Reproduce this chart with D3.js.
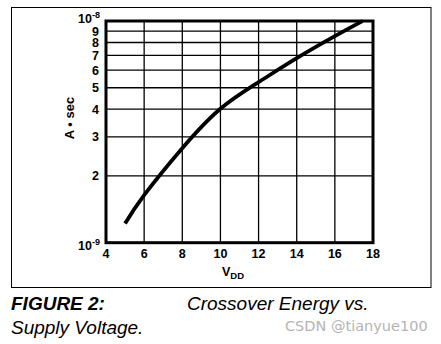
<!DOCTYPE html>
<html>
<head>
<meta charset="utf-8">
<script src="https://cdn.jsdelivr.net/npm/d3@7"></script>
<style>
  html, body { margin: 0; padding: 0; background: #fff; }
  svg { display: block; font-family: "Liberation Sans", Arial, sans-serif; }
</style>
</head>
<body>
<svg id="chart" width="441" height="344"></svg>
<script>
// Supply voltage (V) and crossover energy (units of 1e-9 A·s)
const vdd = [5, 6, 8, 10, 12, 14, 16, 17.45];
const energy = [1.22, 1.64, 2.67, 4.02, 5.3, 6.8, 8.55, 10];

const xTicks = [4, 6, 8, 10, 12, 14, 16, 18];
const yMinor = [2, 3, 4, 5, 6, 7, 8, 9];

const svg = d3.select("#chart");

const x = d3.scaleLinear().domain([4, 18]).range([106, 373]);
const y = d3.scaleLog().domain([1, 10]).range([242.7, 21]);

// outer figure border
svg.append("rect")
  .attr("x", 11.5).attr("y", 7.5).attr("width", 419.5).attr("height", 280)
  .attr("fill", "none").attr("stroke", "#000").attr("stroke-width", 1);

// grid
const grid = svg.append("g").attr("stroke", "#000").attr("stroke-width", 1.3);
grid.selectAll("line.v").data(xTicks.slice(1, -1)).join("line")
  .attr("x1", d => x(d)).attr("x2", d => x(d))
  .attr("y1", y(10)).attr("y2", y(1));
grid.selectAll("line.h").data(yMinor).join("line")
  .attr("x1", x(4)).attr("x2", x(18))
  .attr("y1", d => y(d)).attr("y2", d => y(d));

// plot frame
svg.append("rect")
  .attr("x", x(4)).attr("y", y(10))
  .attr("width", x(18) - x(4)).attr("height", y(1) - y(10))
  .attr("fill", "none").attr("stroke", "#000").attr("stroke-width", 3);

// curve
const line = d3.line()
  .x((d, i) => x(vdd[i]))
  .y(d => y(d))
  .curve(d3.curveNatural);
svg.append("path")
  .attr("d", line(energy))
  .attr("fill", "none").attr("stroke", "#000").attr("stroke-width", 3.8);

// x tick labels
svg.append("g").selectAll("text").data(xTicks).join("text")
  .attr("x", d => x(d)).attr("y", 257.5)
  .attr("text-anchor", "middle")
  .attr("font-size", 12.5).attr("font-weight", "bold")
  .text(d => d);

// y tick labels
svg.append("g").selectAll("text").data(yMinor).join("text")
  .attr("x", 99).attr("y", d => y(d) + 4.5)
  .attr("text-anchor", "end")
  .attr("font-size", 12.5).attr("font-weight", "bold")
  .text(d => d);

// decade labels
function decade(yPos, exp) {
  const t = svg.append("text")
    .attr("x", 100).attr("y", yPos)
    .attr("text-anchor", "end")
    .attr("font-size", 12.5).attr("font-weight", "bold");
  t.append("tspan").text("10");
  t.append("tspan").attr("dy", -5).attr("font-size", 9).text(exp);
}
decade(23, "-8");
decade(250, "-9");

// axis titles
svg.append("text")
  .attr("transform", "translate(74,118) rotate(-90)")
  .attr("text-anchor", "middle")
  .attr("font-size", 13).attr("font-weight", "bold")
  .text("A • sec");

const xt = svg.append("text")
  .attr("x", 222).attr("y", 276)
  .attr("font-size", 12.5).attr("font-weight", "bold");
xt.append("tspan").text("V");
xt.append("tspan").attr("dy", 3).attr("font-size", 9.5).text("DD");

// caption
svg.append("text")
  .attr("x", 11).attr("y", 310)
  .attr("font-size", 19).attr("font-weight", "bold").attr("font-style", "italic")
  .text("FIGURE 2:");
svg.append("text")
  .attr("x", 187).attr("y", 310)
  .attr("font-size", 19).attr("font-style", "italic")
  .text("Crossover Energy vs.");
svg.append("text")
  .attr("x", 11).attr("y", 334)
  .attr("font-size", 19).attr("font-style", "italic")
  .text("Supply Voltage.");

svg.append("text")
  .attr("x", 285).attr("y", 331)
  .attr("font-size", 14.5).attr("fill", "#b4b4b4")
  .attr("font-family", "'DejaVu Sans', sans-serif")
  .text("CSDN @tianyue100");
</script>
</body>
</html>
